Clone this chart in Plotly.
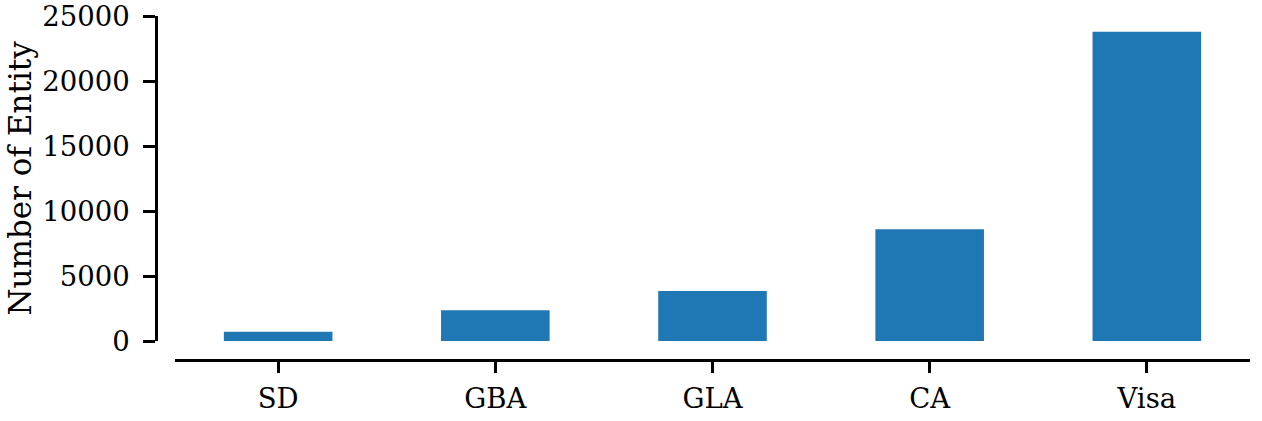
import plotly.graph_objects as go

categories = ["SD", "GBA", "GLA", "CA", "Visa"]
counts = [720, 2360, 3850, 8590, 23790]
y_ticks = [0, 5000, 10000, 15000, 20000, 25000]

W, H = 1262, 421
ml, mr, mt, mb = 156, 12, 16, 61
pw = W - ml - mr
ph = H - mt - mb
off = 19

font = dict(family="DejaVu Serif", size=27.5, color="black")
label_font = dict(family="DejaVu Serif", size=31, color="black")

fig = go.Figure(go.Bar(x=list(range(len(categories))), y=counts,
                       marker=dict(color="#1f77b4", line=dict(width=0)),
                       width=0.5))

fig.update_layout(
    width=W, height=H,
    margin=dict(l=ml, r=mr, t=mt, b=mb, autoexpand=False),
    plot_bgcolor="white", paper_bgcolor="white",
    font=font, showlegend=False,
    xaxis=dict(domain=[off / pw, 1], anchor="free", position=0,
               range=[-0.475, 4.475], tickmode="array",
               tickvals=list(range(len(categories))), ticktext=categories,
               showline=True, linecolor="black", linewidth=2.5,
               ticks="outside", ticklen=11, tickwidth=2.5, tickcolor="black",
               showgrid=False, zeroline=False, tickfont=font, ticklabelstandoff=2,
               ticklabeloverflow="allow"),
    yaxis=dict(domain=[off / ph, 1], anchor="free", position=0,
               range=[0, 25000], tickmode="array", tickvals=y_ticks,
               ticktext=[str(v) for v in y_ticks],
               showline=True, linecolor="black", linewidth=2.5,
               ticks="outside", ticklen=12, tickwidth=2.5, tickcolor="black",
               showgrid=False, zeroline=False, tickfont=font, ticklabelstandoff=8,
               ticklabeloverflow="allow"),
    annotations=[dict(text="Number of Entity", xref="paper", yref="paper",
                      x=(20 - ml) / pw, y=(H - mb - 178.5) / ph,
                      xanchor="center", yanchor="middle", textangle=-90,
                      showarrow=False, font=label_font)],
)

fig.write_html("out.html", config={"displayModeBar": False},
               post_script="document.body.style.margin='0';document.body.style.padding='0';")
